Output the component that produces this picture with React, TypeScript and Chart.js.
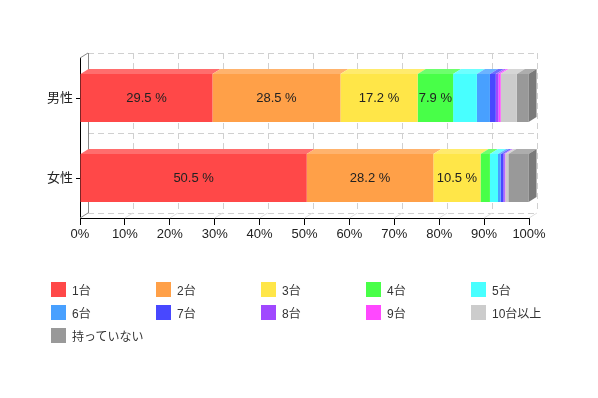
import React, { useEffect, useRef } from "react";
import { Chart, registerables } from "chart.js";

Chart.register(...registerables);

const categories = ["男性", "女性"];
const seriesNames = ["1台", "2台", "3台", "4台", "5台", "6台", "7台", "8台", "9台", "10台以上", "持っていない"];
const maleValues = [29.5, 28.5, 17.2, 7.9, 5.3, 2.9, 1.3, 0.6, 0.5, 3.6, 2.6];
const femaleValues = [50.5, 28.2, 10.5, 2.1, 1.8, 0.6, 0.6, 0.3, 0.1, 0.7, 4.5];
const xTicks = [0, 10, 20, 30, 40, 50, 60, 70, 80, 90, 100];
const colors = ["#ff4848", "#ffa048", "#ffe648", "#48ff48", "#48ffff", "#48a0ff", "#4848ff", "#a048ff", "#ff48ff", "#cccccc", "#999999"];

const FONT = "Arial, 'Liberation Sans', 'Noto Sans CJK JP', sans-serif";
const DX = 8;
const DY = 5;
const LABEL_MIN = 7;

function shade(hex: string, amt: number): string {
  const n = parseInt(hex.slice(1), 16);
  let r = (n >> 16) & 255, g = (n >> 8) & 255, b = n & 255;
  if (amt >= 0) {
    r = Math.round(r + (255 - r) * amt);
    g = Math.round(g + (255 - g) * amt);
    b = Math.round(b + (255 - b) * amt);
  } else {
    r = Math.round(r * (1 + amt));
    g = Math.round(g * (1 + amt));
    b = Math.round(b * (1 + amt));
  }
  return `rgb(${r},${g},${b})`;
}

const gridPlugin = {
  id: "grid3d",
  beforeDatasetsDraw(chart: any) {
    const { ctx, chartArea, scales } = chart;
    const xs = scales.x;
    const ys = scales.y;
    const { left, right, top, bottom } = chartArea;
    ctx.save();
    ctx.lineWidth = 1;
    const c0 = ys.getPixelForValue(0);
    const c1 = ys.getPixelForValue(1);
    const mid = (c0 + c1) / 2;
    ctx.strokeStyle = "#d0d0d0";
    ctx.setLineDash([6, 4]);
    [top, mid, bottom].forEach((yy) => {
      ctx.beginPath();
      ctx.moveTo(left + DX, Math.round(yy - DY) + 0.5);
      ctx.lineTo(right + DX, Math.round(yy - DY) + 0.5);
      ctx.stroke();
    });
    xTicks.forEach((t, i) => {
      if (i === 0) return;
      const px = Math.round(xs.getPixelForValue(t) + DX) + 0.5;
      ctx.beginPath();
      ctx.moveTo(px, top - DY);
      ctx.lineTo(px, bottom - DY);
      ctx.stroke();
    });
    ctx.setLineDash([]);
    ctx.strokeStyle = "#e0e0e0";
    xTicks.forEach((t, i) => {
      if (i === 0) return;
      const px = xs.getPixelForValue(t);
      ctx.beginPath();
      ctx.moveTo(px, bottom);
      ctx.lineTo(px + DX, bottom - DY);
      ctx.stroke();
    });
    ctx.strokeStyle = "#888888";
    ctx.beginPath();
    ctx.moveTo(Math.round(left + DX) + 0.5, top - DY);
    ctx.lineTo(Math.round(left + DX) + 0.5, bottom - DY);
    ctx.stroke();
    ctx.beginPath();
    ctx.moveTo(left, top);
    ctx.lineTo(left + DX, top - DY);
    ctx.moveTo(left, bottom);
    ctx.lineTo(left + DX, bottom - DY);
    ctx.stroke();
    ctx.restore();
  },
  afterDatasetsDraw(chart: any) {
    const { ctx } = chart;
    const n = chart.data.datasets.length;
    ctx.save();
    for (let i = 0; i < n; i++) {
      const meta = chart.getDatasetMeta(i);
      const col = colors[i];
      meta.data.forEach((el: any) => {
        const p = el.getProps(["x", "y", "base", "height"], true);
        const l = Math.min(p.x, p.base);
        const r = Math.max(p.x, p.base);
        const t = p.y - p.height / 2;
        const b = p.y + p.height / 2;
        if (r - l <= 0) return;
        ctx.fillStyle = shade(col, 0.2);
        ctx.beginPath();
        ctx.moveTo(l, t);
        ctx.lineTo(l + DX, t - DY);
        ctx.lineTo(r + DX, t - DY);
        ctx.lineTo(r, t);
        ctx.closePath();
        ctx.fill();
        if (i === n - 1) {
          ctx.fillStyle = shade(col, -0.2);
          ctx.beginPath();
          ctx.moveTo(r, t);
          ctx.lineTo(r + DX, t - DY);
          ctx.lineTo(r + DX, b - DY);
          ctx.lineTo(r, b);
          ctx.closePath();
          ctx.fill();
        }
      });
    }
    ctx.fillStyle = "#222222";
    ctx.font = `13px ${FONT}`;
    ctx.textAlign = "center";
    ctx.textBaseline = "middle";
    for (let i = 0; i < n; i++) {
      const meta = chart.getDatasetMeta(i);
      const vals = chart.data.datasets[i].data;
      meta.data.forEach((el: any, j: number) => {
        const v = vals[j];
        if (v < LABEL_MIN) return;
        const p = el.getProps(["x", "y", "base"], true);
        ctx.fillText(`${v} %`, (p.x + p.base) / 2, p.y);
      });
    }
    ctx.restore();
  },
};

export default function App() {
  const ref = useRef<HTMLCanvasElement | null>(null);
  useEffect(() => {
    if (!ref.current) return;
    Chart.defaults.font.family = FONT;
    const chart = new Chart(ref.current, {
      type: "bar",
      data: {
        labels: categories,
        datasets: seriesNames.map((name, i) => ({
          label: name,
          data: [maleValues[i], femaleValues[i]],
          backgroundColor: colors[i],
          borderWidth: 0,
          barPercentage: 0.75,
          categoryPercentage: 0.8,
        })),
      },
      options: {
        indexAxis: "y",
        responsive: false,
        animation: false,
        layout: { padding: { left: 0, top: 58, right: 69, bottom: 150 } },
        plugins: { legend: { display: false }, tooltip: { enabled: false } },
        scales: {
          x: {
            stacked: true,
            min: 0,
            max: 100,
            afterBuildTicks: (s: any) => {
              s.ticks = xTicks.map((v) => ({ value: v }));
            },
            afterFit: (s: any) => {
              s.height = 30;
            },
            ticks: {
              callback: (v: any) => `${v}%`,
              color: "#222222",
              font: { size: 13, family: FONT },
              padding: 2,
              maxRotation: 0,
            },
            grid: { drawOnChartArea: false, drawTicks: true, tickLength: 7, color: "#000000" },
            border: { color: "#000000" },
          },
          y: {
            stacked: true,
            afterFit: (s: any) => {
              s.width = 80;
            },
            ticks: { color: "#222222", font: { size: 13, family: FONT }, padding: 3 },
            grid: { offset: false, drawOnChartArea: false, drawTicks: true, tickLength: 4, color: "#000000" },
            border: { color: "#000000" },
          },
        },
      },
      plugins: [gridPlugin],
    } as any);
    return () => chart.destroy();
  }, []);

  return (
    <div style={{ position: "fixed", left: 0, top: 0, width: 598, height: 398, background: "#fff" }}>
      <canvas ref={ref} width={598} height={398} style={{ position: "absolute", left: 0, top: 0 }} />
      {seriesNames.map((name, i) => {
        const col = i % 5;
        const row = Math.floor(i / 5);
        return (
          <div
            key={name}
            style={{
              position: "absolute",
              left: 51 + col * 105,
              top: 282 + row * 23,
              height: 15,
              display: "flex",
              alignItems: "center",
              fontFamily: FONT,
              fontSize: 12,
              color: "#333333",
              whiteSpace: "nowrap",
            }}
          >
            <span style={{ display: "inline-block", width: 15, height: 15, background: colors[i], marginRight: 6 }} />
            <span>{name}</span>
          </div>
        );
      })}
    </div>
  );
}
